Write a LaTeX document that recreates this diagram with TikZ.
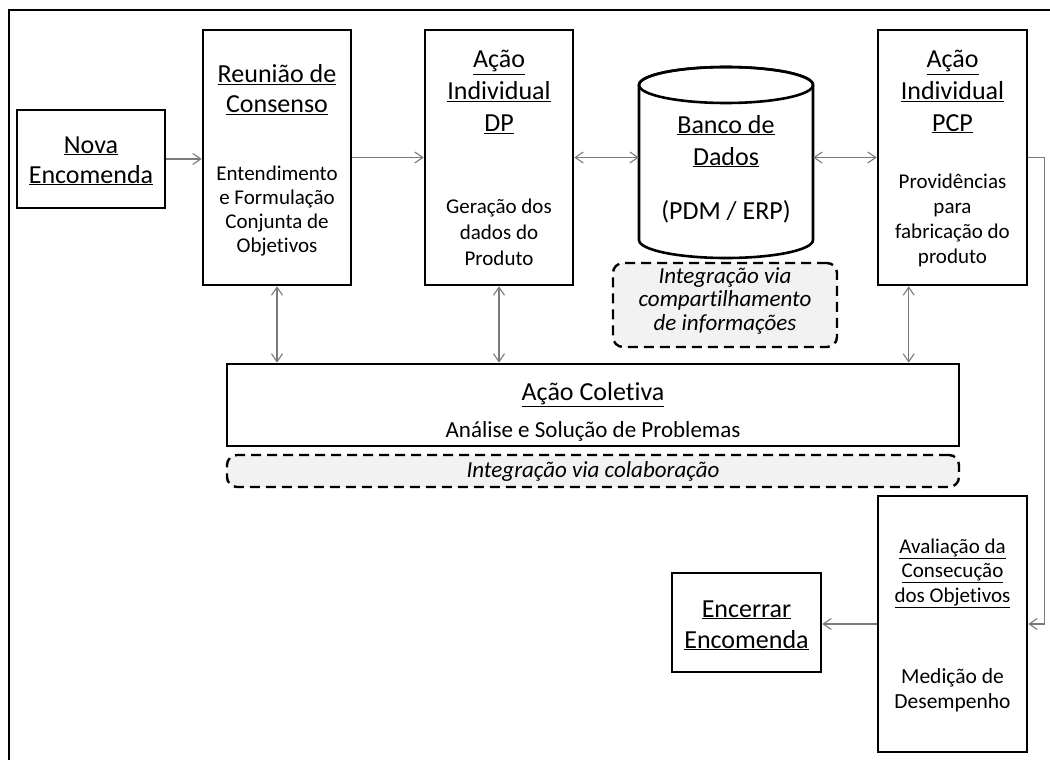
\documentclass[tikz,border=0pt]{standalone}
\usepackage{fontspec}
\setmainfont{Carlito}[RawFeature=-liga]
\usetikzlibrary{arrows.meta}
\newcommand{\blk}[1]{\begin{tabular}[t]{@{}c@{}}#1\end{tabular}}
\newcommand{\fs}[2]{\fontsize{#1}{#2}\selectfont}
\definecolor{conncol}{HTML}{7A7A7A}
\definecolor{dashfill}{HTML}{F2F2F2}
\begin{document}
\begin{tikzpicture}[x=1pt,y=-1pt,
  box/.style={draw=black, line width=2.6pt, fill=white, inner sep=0pt},
  dbox/.style={draw=black, line width=2.4pt, dash pattern=on 10pt off 6pt, rounded corners=10pt, fill=dashfill, inner sep=0pt},
  conn/.style={draw=conncol, line width=1.1pt},
  tip/.tip={Straight Barb[length=8pt,width=11pt,line width=1.1pt]},
  arr/.style={conn, -tip},
  darr/.style={conn, tip-tip},
  txt/.style={anchor=base, inner sep=0pt}]
\useasboundingbox (0,0) rectangle (1050,760);
\clip (0,0) rectangle (1050,760);
\fill[white] (0,0) rectangle (1050,760);
\draw[line width=2.6pt] (9,10) rectangle (1080,790);

% boxes
\node[box, minimum width=148pt, minimum height=98pt] (nova) at (91,159) {};
\node[box, minimum width=148pt, minimum height=255pt] (reuniao) at (277,157.5) {};
\node[box, minimum width=148pt, minimum height=255pt] (dp) at (499,157.5) {};
\node[box, minimum width=149pt, minimum height=255pt] (pcp) at (952.5,157.5) {};
\node[box, minimum width=732pt, minimum height=82pt] (coletiva) at (593,405) {};
\node[dbox, minimum width=224pt, minimum height=84pt] (dash1) at (725,305) {};
\node[dbox, minimum width=732pt, minimum height=32pt] (dash2) at (593,471) {};
\node[box, minimum width=149pt, minimum height=256pt] (aval) at (952.5,624) {};
\node[box, minimum width=149pt, minimum height=99pt] (enc) at (746.5,622.5) {};

% database cylinder
\draw[line width=2.6pt, fill=white] (639,85) -- (639,240)
  arc[start angle=180, end angle=0, x radius=87, y radius=18] -- (813,85)
  arc[start angle=0, end angle=-180, x radius=87, y radius=18] -- cycle;
\draw[line width=2.6pt] (726,85) ellipse[x radius=87, y radius=18];
\node[minimum width=174pt, minimum height=191pt, inner sep=0pt] (db) at (726,162.5) {};

% connectors
\draw[arr] (nova.east) -- (nova.east -| reuniao.west);
\draw[arr] (reuniao.east) -- (reuniao.east -| dp.west);
\draw[darr] (dp.east) -- (dp.east -| db.west);
\draw[darr] (pcp.west -| db.east) -- (pcp.west);
\draw[darr] (reuniao.south) -- (reuniao.south |- coletiva.north);
\draw[darr] (dp.south) -- (dp.south |- coletiva.north);
\draw[darr] ([xshift=32pt]pcp.south west) -- ([xshift=32pt]pcp.south west |- coletiva.north);
\draw[arr] (pcp.east) -- ++(16,0) |- (aval.east);
\draw[arr] (aval.west) -- (aval.west -| enc.east);

% texts
\node[txt] (tnova) at (91,153) {\fs{26}{30}\blk{\underline{Nova}\\\underline{Encomenda}}};
\node[txt] (treu) at (277,83) {\fs{26}{30}\blk{\underline{Reunião de}\\\underline{Consenso}}};
\node[txt] (treub) at (277,180) {\fs{21}{24}\blk{Entendimento\\e Formulação\\Conjunta de\\Objetivos}};
\node[txt] (tdp) at (499,68) {\fs{26}{32}\blk{\underline{Ação}\\\underline{Individual}\\\underline{DP}}};
\node[txt] (tdpb) at (499,213) {\fs{21}{26}\blk{Geração dos\\dados do\\Produto}};
\node[txt] (tdb) at (726,133) {\fs{26}{32}\blk{\underline{Banco de}\\\underline{Dados}}};
\node[txt] (tdbb) at (726,219) {\fs{26}{32}(PDM / ERP)};
\node[txt] (tpcp) at (952.5,68) {\fs{26}{31.5}\blk{\underline{Ação}\\\underline{Individual}\\\underline{PCP}}};
\node[txt] (tpcpb) at (952.5,188) {\fs{21}{25}\blk{Providências\\para\\fabricação do\\produto}};
\node[txt] (td1) at (725,283) {\fs{23}{23.5}\itshape\blk{Integração via\\compartilhamento\\de informações}};
\node[txt] (tcol) at (593,400) {\fs{26}{30}\underline{Ação Coletiva}};
\node[txt] (tcolb) at (593,437) {\fs{23}{26}Análise e Solução de Problemas};
\node[txt] (td2) at (593,477) {\fs{23}{26}\itshape Integração via colaboração};
\node[txt] (taval) at (952.5,553) {\fs{21}{24.5}\blk{\underline{Avaliação da}\\\underline{Consecução}\\\underline{dos Objetivos}}};
\node[txt] (tavalb) at (952.5,683) {\fs{21.5}{25}\blk{Medição de\\Desempenho}};
\node[txt] (tenc) at (746.5,617) {\fs{26}{31}\blk{\underline{Encerrar}\\\underline{Encomenda}}};
\end{tikzpicture}
\end{document}
